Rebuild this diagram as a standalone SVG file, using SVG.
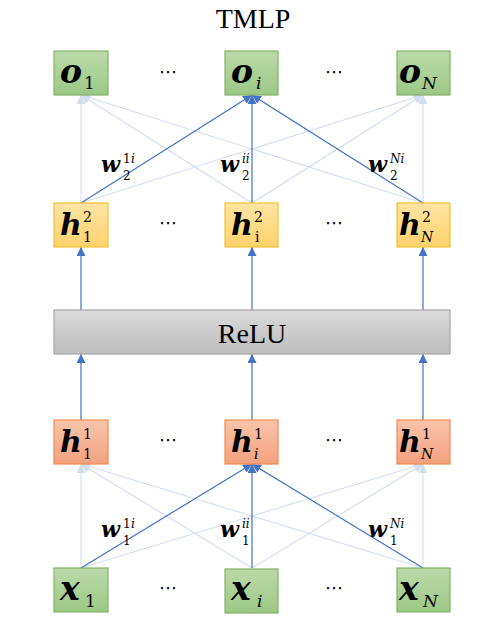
<svg xmlns="http://www.w3.org/2000/svg" width="499" height="630" viewBox="0 0 499 630">
<defs>
<linearGradient id="gGreen" x1="0" y1="0" x2="0" y2="1"><stop offset="0" stop-color="#bcdaa9"/><stop offset="1" stop-color="#9bc885"/></linearGradient>
<linearGradient id="gYellow" x1="0" y1="0" x2="0" y2="1"><stop offset="0" stop-color="#ffe4a3"/><stop offset="1" stop-color="#ffd26c"/></linearGradient>
<linearGradient id="gOrange" x1="0" y1="0" x2="0" y2="1"><stop offset="0" stop-color="#f9c4aa"/><stop offset="1" stop-color="#f3a17e"/></linearGradient>
<linearGradient id="gGray" x1="0" y1="0" x2="0" y2="1"><stop offset="0" stop-color="#dadada"/><stop offset="1" stop-color="#bdbdbd"/></linearGradient>
<marker id="arrD" markerUnits="userSpaceOnUse" markerWidth="10" markerHeight="9" refX="9" refY="4.5" orient="auto"><path d="M0,0 L9,4.5 L0,9 z" fill="#4472c4"/></marker>
<marker id="arrL" markerUnits="userSpaceOnUse" markerWidth="10" markerHeight="9" refX="9" refY="4.5" orient="auto"><path d="M0,0 L9,4.5 L0,9 z" fill="#d3ddf0"/></marker>
</defs>
<style>
.green{fill:url(#gGreen);stroke:#82b366;stroke-width:1.2}
.yellow{fill:url(#gYellow);stroke:#f2c232;stroke-width:1.2}
.orange{fill:url(#gOrange);stroke:#ee8c52;stroke-width:1.2}
.gray{fill:url(#gGray);stroke:#a6a6a6;stroke-width:1.2}
.dark{stroke:#4472c4;stroke-width:1.2;fill:none;marker-end:url(#arrD)}
.light{stroke:#d3ddf0;stroke-width:1.1;fill:none;marker-end:url(#arrL)}
.m{font-family:"DejaVu Serif","Liberation Serif",serif;font-weight:bold;font-style:italic;font-size:33px;fill:#000}
.mh{font-family:"DejaVu Serif","Liberation Serif",serif;font-weight:bold;font-style:italic;font-size:30px;fill:#000}
.s{font-family:"DejaVu Serif","Liberation Serif",serif;font-size:17px;fill:#000}
.si{font-family:"DejaVu Serif","Liberation Serif",serif;font-style:italic;font-size:17px;fill:#000}
.hs{font-family:"DejaVu Serif","Liberation Serif",serif;font-size:14px;fill:#000}
.hsi{font-family:"DejaVu Serif","Liberation Serif",serif;font-style:italic;font-size:14px;fill:#000}
.wm{font-family:"DejaVu Serif","Liberation Serif",serif;font-weight:bold;font-style:italic;font-size:22px;fill:#000}
.ws{font-family:"DejaVu Serif","Liberation Serif",serif;font-size:12px;fill:#000}
.wsi{font-family:"DejaVu Serif","Liberation Serif",serif;font-style:italic;font-size:12px;fill:#000}
.dots{font-family:"DejaVu Sans","Liberation Sans",sans-serif;font-size:18px;fill:#000;text-anchor:middle}
.title{font-family:"Liberation Serif","Times New Roman",serif;font-size:28px;fill:#000;text-anchor:middle}
</style>

<text class="title" x="253" y="28">TMLP</text>

<g id="connectors">
<line class="light" x1="81" y1="568" x2="81" y2="464"/>
<line class="light" x1="81" y1="568" x2="423" y2="464"/>
<line class="light" x1="252" y1="568" x2="81" y2="464"/>
<line class="light" x1="252" y1="568" x2="423" y2="464"/>
<line class="light" x1="423" y1="568" x2="81" y2="464"/>
<line class="light" x1="423" y1="568" x2="423" y2="464"/>
<line class="dark" x1="81" y1="568" x2="252" y2="464"/>
<line class="dark" x1="252" y1="568" x2="252" y2="464"/>
<line class="dark" x1="423" y1="568" x2="252" y2="464"/>
<line class="dark" x1="81" y1="420" x2="81" y2="354"/>
<line class="dark" x1="252" y1="420" x2="252" y2="354"/>
<line class="dark" x1="423" y1="420" x2="423" y2="354"/>
<line class="dark" x1="81" y1="310" x2="81" y2="247"/>
<line class="dark" x1="252" y1="310" x2="252" y2="247"/>
<line class="dark" x1="423" y1="310" x2="423" y2="247"/>
<line class="light" x1="81" y1="203" x2="81" y2="95"/>
<line class="light" x1="81" y1="203" x2="423" y2="95"/>
<line class="light" x1="252" y1="203" x2="81" y2="95"/>
<line class="light" x1="252" y1="203" x2="423" y2="95"/>
<line class="light" x1="423" y1="203" x2="81" y2="95"/>
<line class="light" x1="423" y1="203" x2="423" y2="95"/>
<line class="dark" x1="81" y1="203" x2="252" y2="95"/>
<line class="dark" x1="252" y1="203" x2="252" y2="95"/>
<line class="dark" x1="423" y1="203" x2="252" y2="95"/>
</g>

<g id="o1"><rect class="green" x="54" y="51" width="54" height="44"/><text class="m" x="60" y="83">o</text><text class="s" x="84" y="89">1</text></g>
<g id="oi"><rect class="green" x="225" y="51" width="53" height="44"/><text class="m" x="231" y="83">o</text><text class="si" x="256" y="89">i</text></g>
<g id="oN"><rect class="green" x="397" y="51" width="53" height="44"/><text class="m" x="399" y="83">o</text><text class="si" x="422" y="89">N</text></g>

<g id="h2_1"><rect class="yellow" x="54" y="203" width="54" height="44"/><text class="mh" x="60" y="235">h</text><text class="hs" x="83" y="222">2</text><text class="hs" x="83" y="242">1</text></g>
<g id="h2_i"><rect class="yellow" x="225" y="203" width="53" height="44"/><text class="mh" x="231" y="235">h</text><text class="hs" x="254" y="222">2</text><text class="hs" x="255" y="242">i</text></g>
<g id="h2_N"><rect class="yellow" x="397" y="203" width="53" height="44"/><text class="mh" x="399" y="235">h</text><text class="hs" x="422" y="222">2</text><text class="hsi" x="421" y="242">N</text></g>

<g id="relu"><rect class="gray" x="54" y="310" width="396" height="44"/><text class="title" x="252" y="343">ReLU</text></g>

<g id="h1_1"><rect class="orange" x="54" y="420" width="54" height="44"/><text class="mh" x="60" y="452">h</text><text class="hs" x="83" y="439">1</text><text class="hs" x="83" y="459">1</text></g>
<g id="h1_i"><rect class="orange" x="225" y="420" width="53" height="44"/><text class="mh" x="231" y="452">h</text><text class="hs" x="254" y="439">1</text><text class="hsi" x="254" y="459">i</text></g>
<g id="h1_N"><rect class="orange" x="397" y="420" width="53" height="44"/><text class="mh" x="399" y="452">h</text><text class="hs" x="422" y="439">1</text><text class="hsi" x="421" y="459">N</text></g>

<g id="x1"><rect class="green" x="54" y="568" width="54" height="44"/><text class="m" x="60" y="600">x</text><text class="s" x="85" y="607">1</text></g>
<g id="xi"><rect class="green" x="225" y="569" width="53" height="44"/><text class="m" x="231" y="600">x</text><text class="si" x="257" y="607">i</text></g>
<g id="xN"><rect class="green" x="397" y="568" width="53" height="44"/><text class="m" x="399" y="600">x</text><text class="si" x="423" y="607">N</text></g>

<g id="dots">
<text class="dots" x="168" y="78">⋯</text><text class="dots" x="334" y="78">⋯</text>
<text class="dots" x="168" y="229">⋯</text><text class="dots" x="334" y="229">⋯</text>
<text class="dots" x="168" y="446">⋯</text><text class="dots" x="334" y="446">⋯</text>
<text class="dots" x="168" y="594">⋯</text><text class="dots" x="334" y="594">⋯</text>
</g>

<g id="weights">
<text class="wm" x="101" y="172">w</text><text class="ws" x="123" y="163">1</text><text class="wsi" x="131" y="163">i</text><text class="ws" x="123" y="180">2</text>
<text class="wm" x="220" y="172">w</text><text class="wsi" x="242" y="163">ii</text><text class="ws" x="242" y="180">2</text>
<text class="wm" x="368" y="172">w</text><text class="wsi" x="390" y="163">Ni</text><text class="ws" x="390" y="180">2</text>
<text class="wm" x="101" y="537">w</text><text class="ws" x="123" y="528">1</text><text class="wsi" x="131" y="528">i</text><text class="ws" x="123" y="545">1</text>
<text class="wm" x="220" y="537">w</text><text class="wsi" x="242" y="528">ii</text><text class="ws" x="242" y="545">1</text>
<text class="wm" x="368" y="537">w</text><text class="wsi" x="390" y="528">Ni</text><text class="ws" x="390" y="545">1</text>
</g>
</svg>
